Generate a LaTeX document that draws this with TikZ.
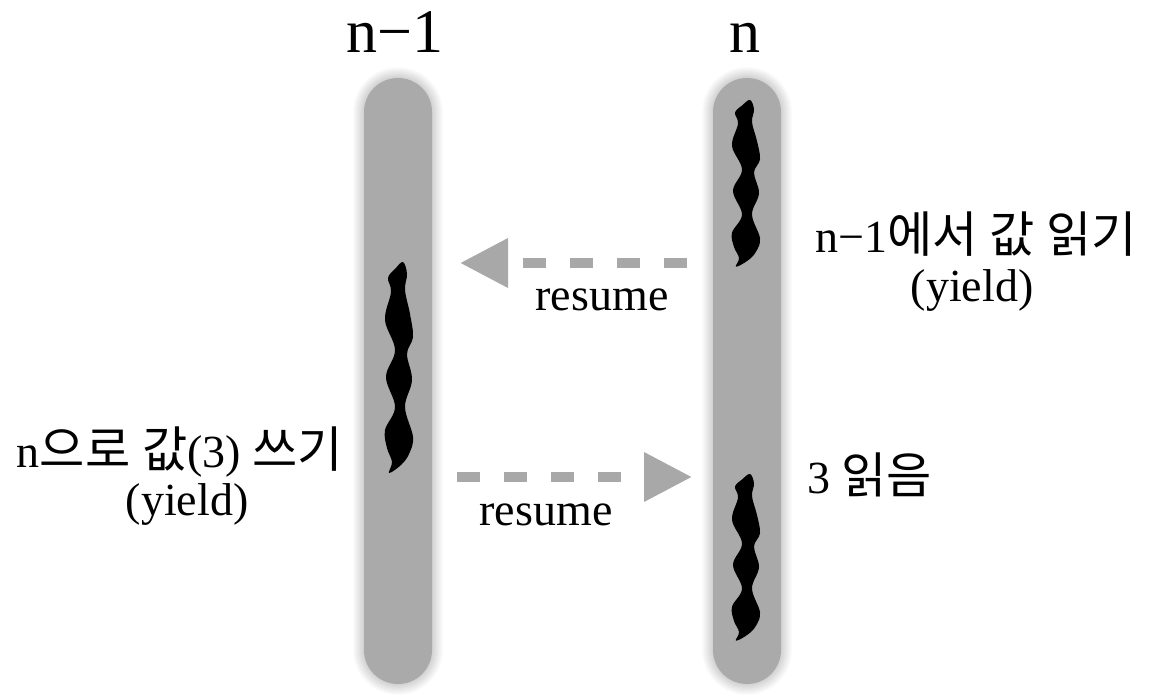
\documentclass[tikz,border=0pt]{standalone}
\usepackage{fontspec}
\setmainfont{Liberation Serif}
\newfontfamily\cjk[Scale=1.07]{Noto Sans CJK KR}
\usetikzlibrary{arrows.meta}
\newcommand{\K}[1]{{\cjk #1}}
\definecolor{bargray}{HTML}{A9AAA9}
\definecolor{arrowgray}{HTML}{A8A8A8}
\begin{document}
\begin{tikzpicture}[x=1pt,y=-1pt,
  bar/.style={fill=bargray, minimum width=68pt, minimum height=606pt, rounded corners=34pt, inner sep=0pt, draw=none},
  title/.style={font=\fontsize{62}{70}\selectfont, anchor=base, inner sep=0pt},
  lbl/.style={font=\fontsize{46}{52}\selectfont, anchor=base, inner sep=0pt},
  conn/.style={draw=arrowgray, line width=10pt, line cap=butt, dash pattern=on 23pt off 24pt, -{Triangle[length=48pt, width=47pt]}},
  worm/.pic={\fill[black] plot[smooth cycle, tension=0.6] coordinates {
    (0,0) (4,12) (2,28) (7,52) (10,75) (4,92) (9,118) (2,145) (10,175) (6,192) (-2,203)
    (-14,211)
    (-11,200) (-16,186) (-18,168) (-8,145) (-17,115) (-8,88) (-18,58) (-12,30) (-15,16) (-8,7)};}
]
\useasboundingbox (0,0) rectangle (1154,700);
\fill[white] (0,0) rectangle (1154,700);
% glow
\foreach \w in {70,72,...,90} {
  \draw[line width=\w pt, black, opacity=0.016, line cap=round] (398,112) -- (398,650);
  \draw[line width=\w pt, black, opacity=0.016, line cap=round] (747,112) -- (747,650);
}
\node[bar] (L) at (398,381) {};
\node[bar] (R) at (747,381) {};
% worms
\pic at (403,262) {worm};
\pic[yscale=0.79] at (750,100) {worm};
\pic[yscale=0.79] at (750,474) {worm};
% titles
\node[title] (t1) at (395,53) {n−1};
\node[title] (t2) at (745,53) {n};
% arrows
\coordinate (a1s) at (687,263);
\coordinate (a1e) at (460,263);
\coordinate (a2s) at (457,477);
\coordinate (a2e) at (692,477);
\draw[conn] (a1s) -- (a1e);
\draw[conn] (a2s) -- (a2e);
\node[lbl] (r1) at (602,311) {resume};
\node[lbl] (r2) at (546,525) {resume};
% right labels
\node[lbl] (rl1) at (976,253) {n−1\K{에서} \K{값} \K{읽기}};
\node[lbl] (rl2) at (972,302) {(yield)};
\node[lbl, anchor=base west] (rl3) at (807,493) {3 \K{읽음}};
% left labels
\node[lbl] (ll1) at (180,467) {n\K{으로} \K{값}(3) \K{쓰기}};
\node[lbl] (ll2) at (187,515) {(yield)};
\end{tikzpicture}
\end{document}
